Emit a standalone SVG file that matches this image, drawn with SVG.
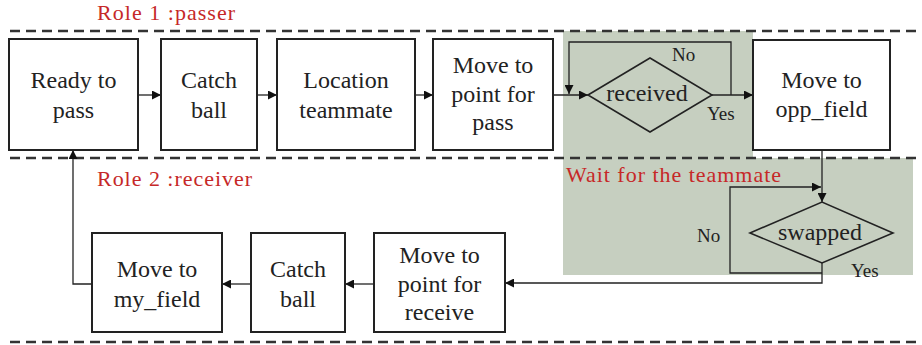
<svg xmlns="http://www.w3.org/2000/svg" width="922" height="345" viewBox="0 0 922 345">
<defs>
<marker id="ah" viewBox="0 0 10 10" refX="10" refY="5" markerWidth="9" markerHeight="9" markerUnits="userSpaceOnUse" orient="auto">
<path d="M0,0 L10,5 L0,10 Z" fill="#111"/>
</marker>
<style>
.box{fill:#fff;stroke:#222;stroke-width:2}
.dia{fill:none;stroke:#222;stroke-width:1.6}
text{font-family:"Liberation Serif", "Times New Roman", serif}
.t{font-size:24px;fill:#222;text-anchor:middle}
.s{font-size:19px;fill:#222}
.r{font-size:22px;fill:#c62828}
.c{fill:none;stroke:#222;stroke-width:1.3}
.d{fill:none;stroke:#333;stroke-width:2.6;stroke-dasharray:10 6}
</style>
</defs>
<rect width="922" height="345" fill="#fff"/>
<path d="M563,31 H753 V158 H913 V275 H563 Z" fill="#c6cfc0"/>
<g id="lanes">
<line class="d" x1="10" y1="31" x2="922" y2="31"/>
<line class="d" x1="10" y1="158" x2="922" y2="158"/>
<line class="d" x1="10" y1="342" x2="922" y2="342" stroke-width="3"/>
<text class="r" x="97" y="20" textLength="138">Role 1 :passer</text>
<text class="r" x="97" y="186" textLength="155">Role 2 :receiver</text>
<text class="r" x="566" y="182" textLength="215">Wait for the teammate</text>
</g>
<g id="connectors">
<line class="c" x1="138" y1="95" x2="161" y2="95" marker-end="url(#ah)"/>
<line class="c" x1="257" y1="95" x2="277" y2="95" marker-end="url(#ah)"/>
<line class="c" x1="415" y1="95" x2="433" y2="95" marker-end="url(#ah)"/>
<line class="c" x1="553" y1="95" x2="588" y2="95" marker-end="url(#ah)"/>
<line class="c" x1="712" y1="95" x2="753" y2="95" marker-end="url(#ah)"/>
<path class="c" d="M731,95 V42 H569 V94" marker-end="url(#ah)"/>
<line class="c" x1="822" y1="150" x2="822" y2="202" marker-end="url(#ah)"/>
<path class="c" d="M822,273 H730 V187 H821" marker-end="url(#ah)"/>
<path class="c" d="M822,263 V283 H505" marker-end="url(#ah)"/>
<line class="c" x1="374" y1="284" x2="345" y2="284" marker-end="url(#ah)"/>
<line class="c" x1="251" y1="284" x2="222" y2="284" marker-end="url(#ah)"/>
<path class="c" d="M92,284 H73 V150" marker-end="url(#ah)"/>
<text class="s" x="672" y="61">No</text>
<text class="s" x="707" y="120">Yes</text>
<text class="s" x="697" y="242">No</text>
<text class="s" x="851" y="277">Yes</text>
</g>
<g id="ready">
<rect class="box" x="9" y="39" width="129" height="111"/>
<text class="t" x="73.5" y="88">Ready to</text>
<text class="t" x="73.5" y="118">pass</text>
</g>
<g id="catch1">
<rect class="box" x="161" y="39" width="96" height="111"/>
<text class="t" x="209" y="88">Catch</text>
<text class="t" x="209" y="118">ball</text>
</g>
<g id="location">
<rect class="box" x="277" y="39" width="138" height="111"/>
<text class="t" x="346" y="88">Location</text>
<text class="t" x="346" y="118">teammate</text>
</g>
<g id="movepass">
<rect class="box" x="433" y="39" width="120" height="111"/>
<text class="t" x="493" y="73">Move to</text>
<text class="t" x="493" y="102">point for</text>
<text class="t" x="493" y="130">pass</text>
</g>
<g id="received">
<polygon class="dia" points="588,95 650,58 712,95 650,132"/>
<text class="t" x="647" y="101">received</text>
</g>
<g id="oppfield">
<rect class="box" x="753" y="40" width="137" height="110"/>
<text class="t" x="821.5" y="88">Move to</text>
<text class="t" x="821.5" y="117">opp_field</text>
</g>
<g id="swapped">
<polygon class="dia" points="750,233 822,202 893,233 822,263"/>
<text class="t" x="820" y="240">swapped</text>
</g>
<g id="movereceive">
<rect class="box" x="374" y="233" width="131" height="99"/>
<text class="t" x="439.5" y="263">Move to</text>
<text class="t" x="439.5" y="292">point for</text>
<text class="t" x="439.5" y="320">receive</text>
</g>
<g id="catch2">
<rect class="box" x="251" y="233" width="94" height="99"/>
<text class="t" x="298" y="277">Catch</text>
<text class="t" x="298" y="307">ball</text>
</g>
<g id="myfield">
<rect class="box" x="92" y="233" width="130" height="99"/>
<text class="t" x="157" y="277">Move to</text>
<text class="t" x="157" y="307">my_field</text>
</g>
</svg>
